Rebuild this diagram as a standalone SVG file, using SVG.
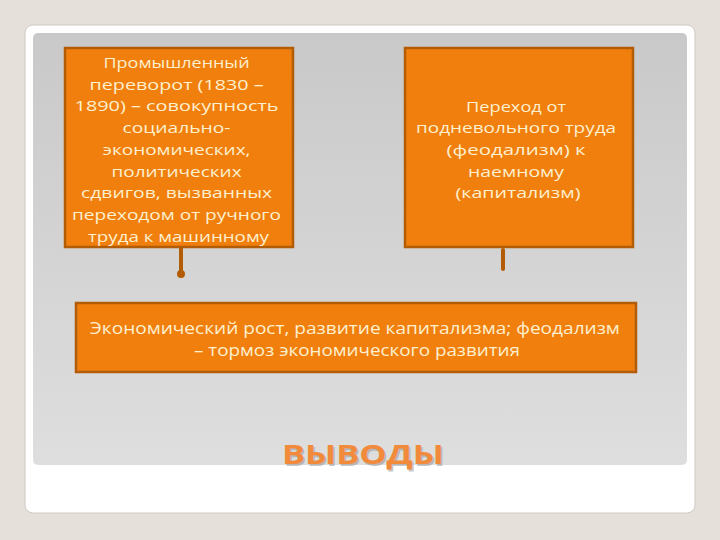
<svg xmlns="http://www.w3.org/2000/svg" width="720" height="540" viewBox="0 0 720 540">
<defs>
<linearGradient id="panel" x1="0" y1="0" x2="0" y2="1">
<stop offset="0" stop-color="#c9c9c9"/>
<stop offset="1" stop-color="#dedede"/>
</linearGradient>
<style>
.box{fill:#f07f0e;stroke:#b25c05;stroke-width:2.5}
.t{font-family:'Open Sans','DejaVu Sans',sans-serif;font-size:15px;fill:#fdf0cf;text-anchor:middle}
.t3{font-family:'Open Sans','DejaVu Sans',sans-serif;font-size:16.5px;fill:#fdf0cf;text-anchor:middle}
.conn{stroke:#b25c05;stroke-width:4;fill:none}
.ttl{font-family:'Open Sans','DejaVu Sans',sans-serif;font-weight:bold;font-size:26px;text-anchor:middle}
</style>
</defs>
<rect x="0" y="0" width="720" height="540" fill="#e5e0d9"/>
<rect x="25" y="25" width="670" height="488" rx="8" fill="#ffffff" stroke="#cfcac2" stroke-width="1"/>
<rect x="33" y="33" width="654" height="432" rx="5" fill="url(#panel)"/>
<g id="box1">
<rect class="box" x="65" y="48" width="228" height="199"/>
<text class="t">
<tspan x="178.5" y="68" textLength="146" lengthAdjust="spacingAndGlyphs">Промышленный</tspan>
<tspan x="178.5" y="89.7" textLength="174" lengthAdjust="spacingAndGlyphs">переворот (1830 –</tspan>
<tspan x="178.5" y="111.4" textLength="204" lengthAdjust="spacingAndGlyphs">1890) – совокупность</tspan>
<tspan x="178.5" y="133.1" textLength="108" lengthAdjust="spacingAndGlyphs">социально-</tspan>
<tspan x="178.5" y="154.8" textLength="148" lengthAdjust="spacingAndGlyphs">экономических,</tspan>
<tspan x="178.5" y="176.5" textLength="130" lengthAdjust="spacingAndGlyphs">политических</tspan>
<tspan x="178.5" y="198.2" textLength="191" lengthAdjust="spacingAndGlyphs">сдвигов, вызванных</tspan>
<tspan x="178.5" y="219.9" textLength="209" lengthAdjust="spacingAndGlyphs">переходом от ручного</tspan>
<tspan x="178.5" y="241.6" textLength="181" lengthAdjust="spacingAndGlyphs">труда к машинному</tspan>
</text>
</g>
<g id="box2">
<rect class="box" x="405" y="48" width="228" height="199"/>
<text class="t">
<tspan x="518" y="111.5" textLength="100" lengthAdjust="spacingAndGlyphs">Переход от</tspan>
<tspan x="518" y="133.2" textLength="200" lengthAdjust="spacingAndGlyphs">подневольного труда</tspan>
<tspan x="518" y="154.9" textLength="139" lengthAdjust="spacingAndGlyphs">(феодализм) к</tspan>
<tspan x="518" y="176.6" textLength="96" lengthAdjust="spacingAndGlyphs">наемному</tspan>
<tspan x="518" y="198.3" textLength="125" lengthAdjust="spacingAndGlyphs">(капитализм)</tspan>
</text>
</g>
<g id="box3">
<rect class="box" x="76" y="303" width="560" height="69"/>
<text class="t3">
<tspan x="357" y="334" textLength="530" lengthAdjust="spacingAndGlyphs">Экономический рост, развитие капитализма; феодализм</tspan>
<tspan x="357" y="356" textLength="326" lengthAdjust="spacingAndGlyphs">– тормоз экономического развития</tspan>
</text>
</g>
<g id="connectors">
<line class="conn" x1="181" y1="247" x2="181" y2="273"/>
<circle cx="181" cy="274" r="4" fill="#b25c05"/>
<line class="conn" x1="503" y1="250" x2="503" y2="269" stroke-linecap="round"/>
</g>
<g id="title">
<text class="ttl" x="363" y="464" fill="#8f8f8f" fill-opacity="0.5" textLength="162" lengthAdjust="spacingAndGlyphs" transform="translate(1.5,1.5)">ВЫВОДЫ</text>
<text class="ttl" x="363" y="464" fill="#f28a3c" textLength="162" lengthAdjust="spacingAndGlyphs">ВЫВОДЫ</text>
</g>
</svg>
